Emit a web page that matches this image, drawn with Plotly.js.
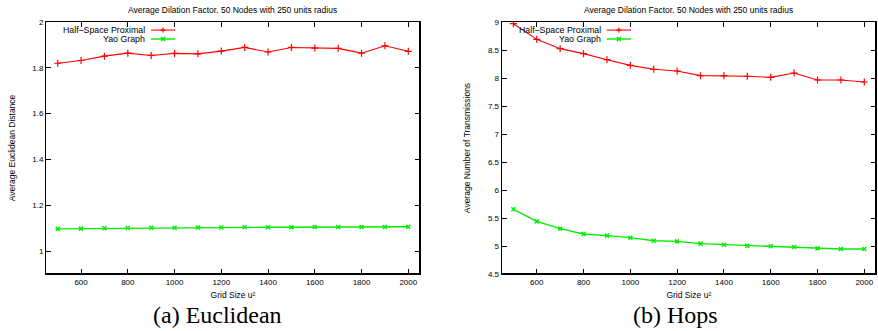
<!DOCTYPE html>
<html>
<head>
<meta charset="utf-8">
<script src="https://cdn.plot.ly/plotly-3.0.1.min.js"></script>
<style>html,body{margin:0;padding:0;background:#fff;}#chart{width:878px;height:331px;}</style>
</head>
<body>
<div id="chart"></div>
<script>
const gridSize = [500, 600, 700, 800, 900, 1000, 1100, 1200, 1300, 1400, 1500, 1600, 1700, 1800, 1900, 2000];
const eucHalfSpace = [1.820, 1.832, 1.851, 1.864, 1.854, 1.863, 1.861, 1.873, 1.889, 1.869, 1.889, 1.886, 1.885, 1.864, 1.896, 1.872];
const eucYao = [1.097, 1.098, 1.100, 1.101, 1.102, 1.102, 1.103, 1.103, 1.104, 1.104, 1.104, 1.105, 1.105, 1.105, 1.105, 1.106];
const hopsHalfSpace = [8.97, 8.69, 8.524, 8.435, 8.327, 8.226, 8.155, 8.125, 8.042, 8.042, 8.030, 8.012, 8.089, 7.964, 7.964, 7.929];
const hopsYao = [5.655, 5.44, 5.31, 5.214, 5.185, 5.149, 5.095, 5.083, 5.042, 5.024, 5.006, 4.994, 4.982, 4.958, 4.946, 4.946];
const seriesNames = ["Half\u2013Space Proximal", "Yao Graph"];
const chartTitle = "Average Dilation Factor. 50 Nodes with 250 units radius";
const xTitle = "Grid Size u\u00b2";
const yTitles = ["Average Euclidean Distance", "Average Number of Transmissions"];
const captions = ["(a) Euclidean", "(b) Hops"];

const RED = "#ff0000", GREEN = "#00ee00";
const FONT = "Liberation Sans, Arial, sans-serif";

function trace(y, color, sym, xa, ya, msize, mw, lw) {
  return {x: gridSize, y: y, xaxis: xa, yaxis: ya, type: "scatter", mode: "lines+markers",
    line: {color: color, width: lw}, marker: {symbol: sym, size: msize, color: color, line: {color: color, width: mw}},
    showlegend: false, hoverinfo: "x+y"};
}
const data = [
  trace(eucHalfSpace, RED, "cross-thin-open", "x", "y", 5, 1.2, 1.1),
  trace(eucYao, GREEN, "x-thin-open", "x", "y", 4, 1.5, 1.4),
  trace(hopsHalfSpace, RED, "cross-thin-open", "x2", "y2", 5, 1.2, 1.1),
  trace(hopsYao, GREEN, "x-thin-open", "x2", "y2", 4, 1.5, 1.4)
];

function xaxis(domain, anchor) {
  return {domain: domain, anchor: anchor, range: [450, 2050], tickvals: [600,800,1000,1200,1400,1600,1800,2000],
    ticks: "inside", ticklen: 5, tickcolor: "#000", showline: true, linecolor: "#000", linewidth: 1, mirror: "ticks",
    showgrid: false, zeroline: false, automargin: false, tickfont: {family: FONT, size: 8, color: "#000"},
    title: {text: xTitle, font: {family: FONT, size: 8.5, color: "#000"}, standoff: 6}};
}
function yaxis(range, dtick, anchor, title) {
  return {domain: [0, 1], anchor: anchor, range: range, dtick: dtick, tick0: 0,
    ticks: "inside", ticklen: 5, tickcolor: "#000", showline: true, linecolor: "#000", linewidth: 1, mirror: "ticks",
    showgrid: false, zeroline: false, automargin: false, tickfont: {family: FONT, size: 8, color: "#000"},
    title: {text: title, font: {family: FONT, size: 8.5, color: "#000"}, standoff: 15}};
}

const annotations = [];
const shapes = [];
[["x", "y"], ["x2", "y2"]].forEach(function (ax, i) {
  const xd = ax[0] + " domain", yd = ax[1] + " domain";
  annotations.push({xref: xd, yref: yd, x: 0.5, y: 1.047, text: chartTitle, showarrow: false,
    font: {family: FONT, size: 8.5, color: "#000"}, xanchor: "center", yanchor: "middle"});
  const rows = [0.968, 0.9325];
  const cols = [RED, GREEN];
  rows.forEach(function (ry, k) {
    annotations.push({xref: xd, yref: yd, x: 0.27, y: ry, text: seriesNames[k], showarrow: false,
      font: {family: FONT, size: 8.8, color: "#000"}, xanchor: "right", yanchor: "middle"});
    shapes.push({type: "line", xref: xd, yref: yd, x0: 0.2807, x1: 0.3457, y0: ry, y1: ry,
      line: {color: cols[k], width: k === 0 ? 1.1 : 1.4}});
    if (k === 0) {
      shapes.push({type: "line", xref: xd, yref: yd, xsizemode: "pixel", ysizemode: "pixel", xanchor: 0.313, yanchor: ry,
        x0: -2.5, x1: 2.5, y0: 0, y1: 0, line: {color: RED, width: 1.2}});
      shapes.push({type: "line", xref: xd, yref: yd, xsizemode: "pixel", ysizemode: "pixel", xanchor: 0.313, yanchor: ry,
        x0: 0, x1: 0, y0: -2.5, y1: 2.5, line: {color: RED, width: 1.2}});
    } else {
      shapes.push({type: "line", xref: xd, yref: yd, xsizemode: "pixel", ysizemode: "pixel", xanchor: 0.313, yanchor: ry,
        x0: -2, x1: 2, y0: -2, y1: 2, line: {color: GREEN, width: 1.5}});
      shapes.push({type: "line", xref: xd, yref: yd, xsizemode: "pixel", ysizemode: "pixel", xanchor: 0.313, yanchor: ry,
        x0: -2, x1: 2, y0: 2, y1: -2, line: {color: GREEN, width: 1.5}});
    }
  });
  shapes.push({type: "line", xref: xd, yref: yd, x0: 1, x1: 1, y0: 0, y1: 1, line: {color: "#000", width: 2}});
  shapes.push({type: "line", xref: xd, yref: yd, x0: 0, x1: 1, y0: 0, y1: 0, line: {color: "#000", width: 2}});
});
const CAPFONT = {family: "Liberation Serif, DejaVu Serif, serif", size: 24, color: "#000"};
annotations.push({xref: "paper", yref: "paper", x: 0.2072, y: -0.1627, text: captions[0], showarrow: false,
  font: CAPFONT, xanchor: "center", yanchor: "middle"});
annotations.push({xref: "paper", yref: "paper", x: 0.7584, y: -0.1627, text: captions[1], showarrow: false,
  font: CAPFONT, xanchor: "center", yanchor: "middle"});

const layout = {
  width: 878, height: 331,
  margin: {l: 46, r: 2, t: 22, b: 57, pad: 0},
  paper_bgcolor: "#fff", plot_bgcolor: "#fff",
  showlegend: false,
  xaxis: xaxis([0, 0.4506], "y"),
  yaxis: yaxis([0.9, 2], 0.2, "x", yTitles[0]),
  xaxis2: xaxis([0.549, 1], "y2"),
  yaxis2: yaxis([4.5, 9], 0.5, "x2", yTitles[1]),
  annotations: annotations,
  shapes: shapes
};
Plotly.newPlot("chart", data, layout, {displayModeBar: false, staticPlot: true});
</script>
</body>
</html>
